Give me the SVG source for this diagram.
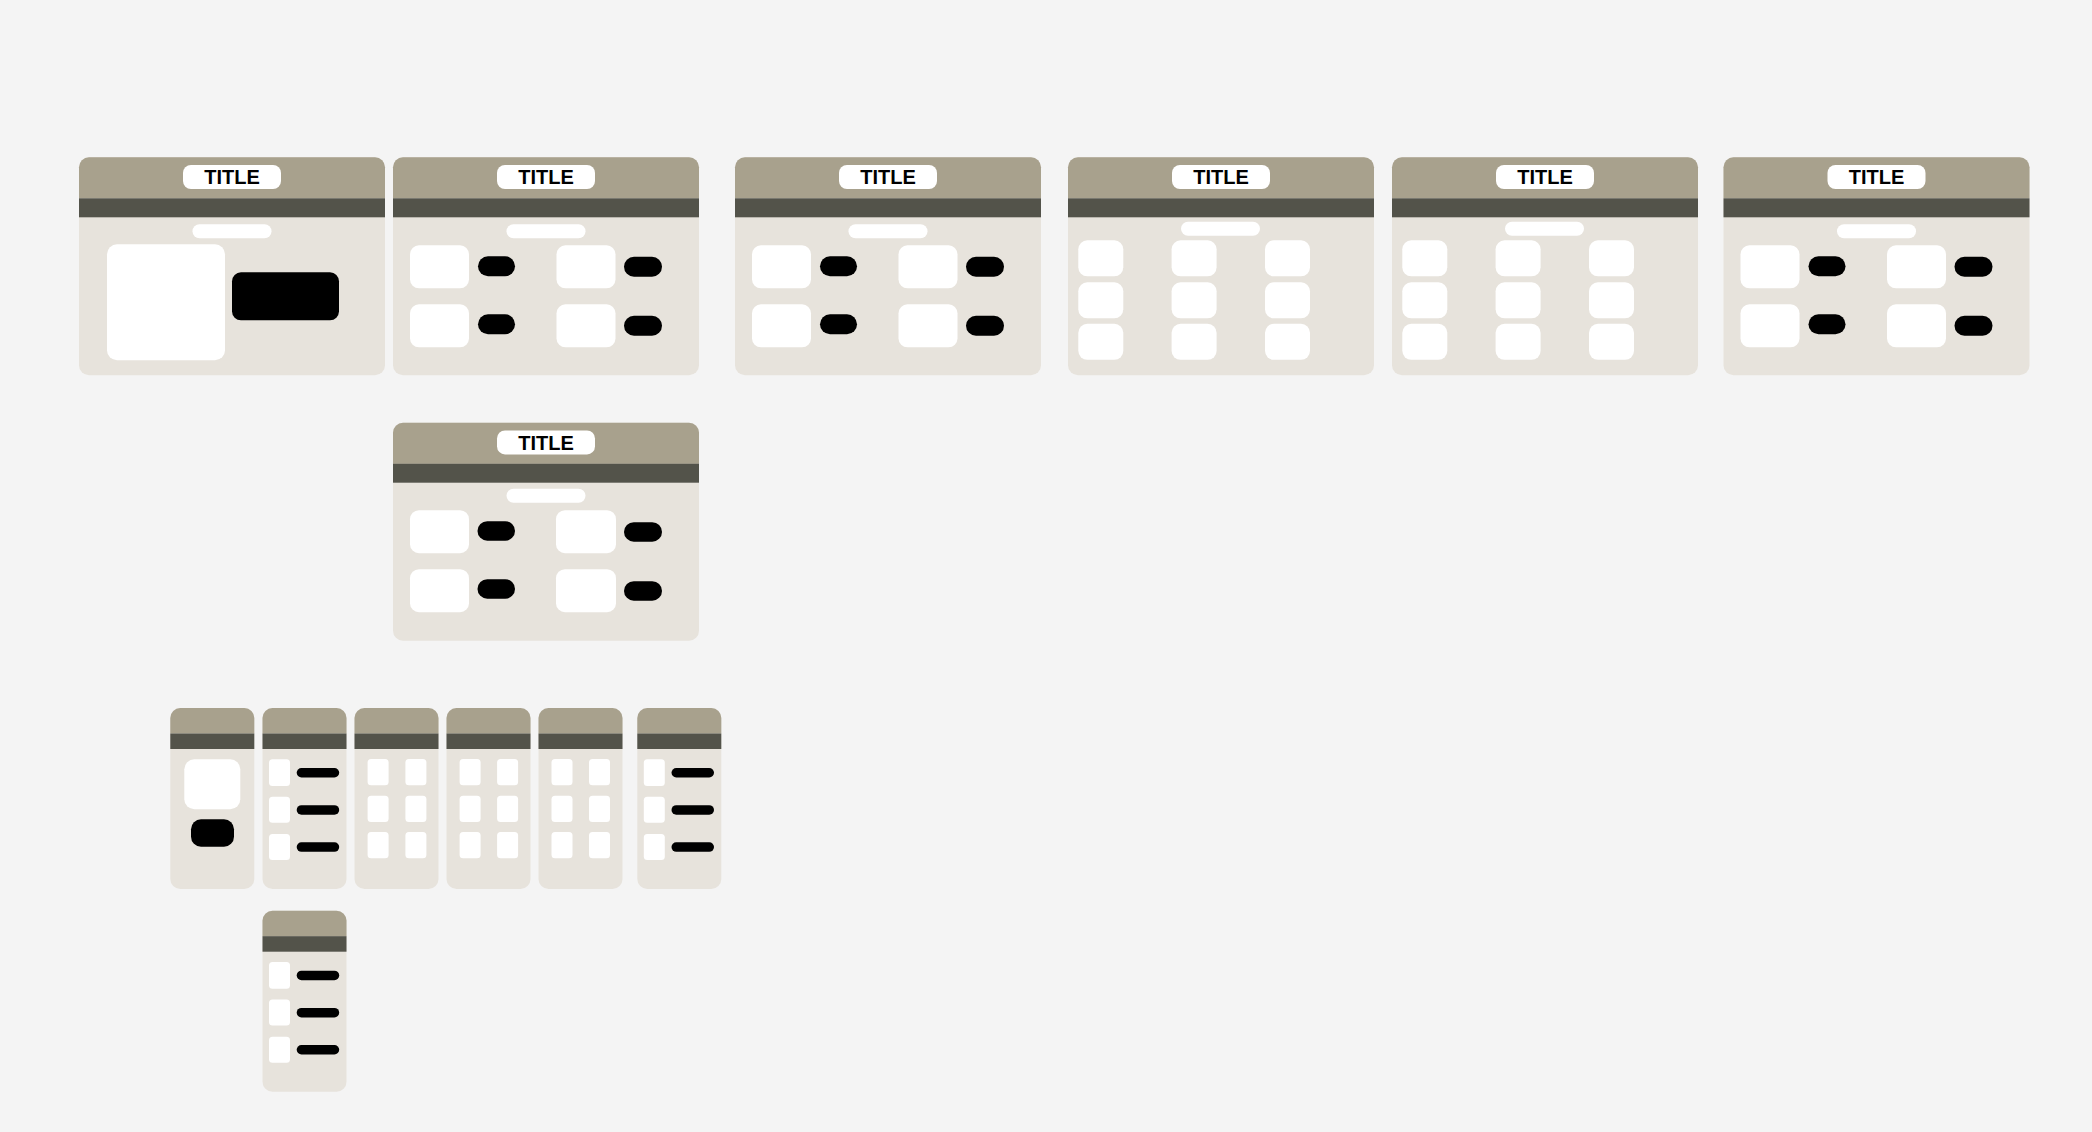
<svg xmlns="http://www.w3.org/2000/svg" width="2092" height="1132" viewBox="0 0 2092 1132">
<style>
.bg{fill:#F4F4F4}
.body{fill:#E7E3DC}
.hdr{fill:#A8A18D}
.band{fill:#53534A}
.w{fill:#FFFFFF}
.k{fill:#000000}
.t{font-family:"Liberation Sans",Arial,sans-serif;font-weight:bold;font-size:20px;fill:#000;text-anchor:middle}
</style>
<defs>
<path id="bigHdr" d="M0,10 A10,10 0 0 1 10,0 H296 A10,10 0 0 1 306,10 V41 H0 Z"/>
<path id="smHdr" d="M0,10 A10,10 0 0 1 10,0 H74 A10,10 0 0 1 84,10 V25.5 H0 Z"/>
</defs>
<rect class="bg" x="0" y="0" width="2092" height="1132"/>
<g id="connectors"></g>

<g id="card1" transform="translate(79,157.3)">
<rect class="body" x="0" y="0" width="306" height="218" rx="10"/>
<use href="#bigHdr" class="hdr"/>
<rect class="band" x="0" y="41" width="306" height="19"/>
<rect class="w" x="104" y="7.7" width="98" height="24" rx="8"/>
<text class="t" x="153" y="27">TITLE</text>
<rect class="w" x="113.5" y="67" width="79" height="14" rx="7"/>
<rect class="w" x="28" y="87" width="118" height="116" rx="10"/>
<rect class="k" x="153" y="115" width="107" height="48" rx="9"/>
</g>

<g id="card2" transform="translate(393,157.3)">
<rect class="body" x="0" y="0" width="306" height="218" rx="10"/>
<use href="#bigHdr" class="hdr"/>
<rect class="band" x="0" y="41" width="306" height="19"/>
<rect class="w" x="104" y="7.7" width="98" height="24" rx="8"/>
<text class="t" x="153" y="27">TITLE</text>
<rect class="w" x="113.5" y="67" width="79" height="14" rx="7"/>
<rect class="w" x="17" y="88" width="59" height="43" rx="9"/>
<rect class="w" x="163.5" y="88" width="59" height="43" rx="9"/>
<rect class="w" x="17" y="147" width="59" height="43" rx="9"/>
<rect class="w" x="163.5" y="147" width="59" height="43" rx="9"/>
<rect class="k" x="85" y="99" width="37" height="20" rx="10"/>
<rect class="k" x="231" y="99.5" width="38" height="20" rx="10"/>
<rect class="k" x="85" y="157" width="37" height="20" rx="10"/>
<rect class="k" x="231" y="158.5" width="38" height="20" rx="10"/>
</g>

<g id="card3" transform="translate(735,157.3)">
<rect class="body" x="0" y="0" width="306" height="218" rx="10"/>
<use href="#bigHdr" class="hdr"/>
<rect class="band" x="0" y="41" width="306" height="19"/>
<rect class="w" x="104" y="7.7" width="98" height="24" rx="8"/>
<text class="t" x="153" y="27">TITLE</text>
<rect class="w" x="113.5" y="67" width="79" height="14" rx="7"/>
<rect class="w" x="17" y="88" width="59" height="43" rx="9"/>
<rect class="w" x="163.5" y="88" width="59" height="43" rx="9"/>
<rect class="w" x="17" y="147" width="59" height="43" rx="9"/>
<rect class="w" x="163.5" y="147" width="59" height="43" rx="9"/>
<rect class="k" x="85" y="99" width="37" height="20" rx="10"/>
<rect class="k" x="231" y="99.5" width="38" height="20" rx="10"/>
<rect class="k" x="85" y="157" width="37" height="20" rx="10"/>
<rect class="k" x="231" y="158.5" width="38" height="20" rx="10"/>
</g>

<g id="card4" transform="translate(1068,157.3)">
<rect class="body" x="0" y="0" width="306" height="218" rx="10"/>
<use href="#bigHdr" class="hdr"/>
<rect class="band" x="0" y="41" width="306" height="19"/>
<rect class="w" x="104" y="7.7" width="98" height="24" rx="8"/>
<text class="t" x="153" y="27">TITLE</text>
<rect class="w" x="113" y="64.5" width="79" height="14" rx="7"/>
<rect class="w" x="10.3" y="83" width="45" height="36" rx="9"/>
<rect class="w" x="103.6" y="83" width="45" height="36" rx="9"/>
<rect class="w" x="197" y="83" width="45" height="36" rx="9"/>
<rect class="w" x="10.3" y="125" width="45" height="36" rx="9"/>
<rect class="w" x="103.6" y="125" width="45" height="36" rx="9"/>
<rect class="w" x="197" y="125" width="45" height="36" rx="9"/>
<rect class="w" x="10.3" y="166.5" width="45" height="36" rx="9"/>
<rect class="w" x="103.6" y="166.5" width="45" height="36" rx="9"/>
<rect class="w" x="197" y="166.5" width="45" height="36" rx="9"/>
</g>

<g id="card5" transform="translate(1392,157.3)">
<rect class="body" x="0" y="0" width="306" height="218" rx="10"/>
<use href="#bigHdr" class="hdr"/>
<rect class="band" x="0" y="41" width="306" height="19"/>
<rect class="w" x="104" y="7.7" width="98" height="24" rx="8"/>
<text class="t" x="153" y="27">TITLE</text>
<rect class="w" x="113" y="64.5" width="79" height="14" rx="7"/>
<rect class="w" x="10.3" y="83" width="45" height="36" rx="9"/>
<rect class="w" x="103.6" y="83" width="45" height="36" rx="9"/>
<rect class="w" x="197" y="83" width="45" height="36" rx="9"/>
<rect class="w" x="10.3" y="125" width="45" height="36" rx="9"/>
<rect class="w" x="103.6" y="125" width="45" height="36" rx="9"/>
<rect class="w" x="197" y="125" width="45" height="36" rx="9"/>
<rect class="w" x="10.3" y="166.5" width="45" height="36" rx="9"/>
<rect class="w" x="103.6" y="166.5" width="45" height="36" rx="9"/>
<rect class="w" x="197" y="166.5" width="45" height="36" rx="9"/>
</g>

<g id="card6" transform="translate(1723.5,157.3)">
<rect class="body" x="0" y="0" width="306" height="218" rx="10"/>
<use href="#bigHdr" class="hdr"/>
<rect class="band" x="0" y="41" width="306" height="19"/>
<rect class="w" x="104" y="7.7" width="98" height="24" rx="8"/>
<text class="t" x="153" y="27">TITLE</text>
<rect class="w" x="113.5" y="67" width="79" height="14" rx="7"/>
<rect class="w" x="17" y="88" width="59" height="43" rx="9"/>
<rect class="w" x="163.5" y="88" width="59" height="43" rx="9"/>
<rect class="w" x="17" y="147" width="59" height="43" rx="9"/>
<rect class="w" x="163.5" y="147" width="59" height="43" rx="9"/>
<rect class="k" x="85" y="99" width="37" height="20" rx="10"/>
<rect class="k" x="231" y="99.5" width="38" height="20" rx="10"/>
<rect class="k" x="85" y="157" width="37" height="20" rx="10"/>
<rect class="k" x="231" y="158.5" width="38" height="20" rx="10"/>
</g>

<g id="card7" transform="translate(393,422.7)">
<rect class="body" x="0" y="0" width="306" height="218" rx="10"/>
<use href="#bigHdr" class="hdr"/>
<rect class="band" x="0" y="41" width="306" height="19"/>
<rect class="w" x="104" y="7.7" width="98" height="24" rx="8"/>
<text class="t" x="153" y="27">TITLE</text>
<rect class="w" x="113.5" y="66" width="79" height="14" rx="7"/>
<rect class="w" x="17" y="87.5" width="59" height="43" rx="9"/>
<rect class="w" x="163" y="87.5" width="60" height="43" rx="9"/>
<rect class="w" x="17" y="146.5" width="59" height="43" rx="9"/>
<rect class="w" x="163" y="146.5" width="60" height="43" rx="9"/>
<rect class="k" x="84.5" y="98.5" width="37.5" height="19.5" rx="9.75"/>
<rect class="k" x="231" y="99.5" width="38" height="19.5" rx="9.75"/>
<rect class="k" x="84.5" y="156.5" width="37.5" height="19.5" rx="9.75"/>
<rect class="k" x="231" y="158.5" width="38" height="19.5" rx="9.75"/>
</g>

<g id="small1" transform="translate(170.3,708)">
<rect class="body" x="0" y="0" width="84" height="181" rx="10"/>
<use href="#smHdr" class="hdr"/>
<rect class="band" x="0" y="25.5" width="84" height="15.5"/>
<rect class="w" x="14" y="51.3" width="56" height="50" rx="10"/>
<rect class="k" x="20.7" y="111.3" width="43" height="27.4" rx="10"/>
</g>

<g id="small2" transform="translate(262.5,708)">
<rect class="body" x="0" y="0" width="84" height="181" rx="10"/>
<use href="#smHdr" class="hdr"/>
<rect class="band" x="0" y="25.5" width="84" height="15.5"/>
<rect class="w" x="6.5" y="51.3" width="21" height="26.7" rx="3.5"/>
<rect class="w" x="6.5" y="88.7" width="21" height="26" rx="3.5"/>
<rect class="w" x="6.5" y="126" width="21" height="26" rx="3.5"/>
<rect class="k" x="34.2" y="60" width="42.5" height="9.5" rx="4.75"/>
<rect class="k" x="34.2" y="97.2" width="42.5" height="9.5" rx="4.75"/>
<rect class="k" x="34.2" y="134.3" width="42.5" height="9.5" rx="4.75"/>
</g>

<g id="small3" transform="translate(354.5,708)">
<rect class="body" x="0" y="0" width="84" height="181" rx="10"/>
<use href="#smHdr" class="hdr"/>
<rect class="band" x="0" y="25.5" width="84" height="15.5"/>
<rect class="w" x="13.1" y="51" width="21" height="26.3" rx="3.5"/>
<rect class="w" x="50.9" y="51" width="21" height="26.3" rx="3.5"/>
<rect class="w" x="13.1" y="87.7" width="21" height="26.3" rx="3.5"/>
<rect class="w" x="50.9" y="87.7" width="21" height="26.3" rx="3.5"/>
<rect class="w" x="13.1" y="124" width="21" height="26.3" rx="3.5"/>
<rect class="w" x="50.9" y="124" width="21" height="26.3" rx="3.5"/>
</g>

<g id="small4" transform="translate(446.5,708)">
<rect class="body" x="0" y="0" width="84" height="181" rx="10"/>
<use href="#smHdr" class="hdr"/>
<rect class="band" x="0" y="25.5" width="84" height="15.5"/>
<rect class="w" x="13.1" y="51" width="21" height="26.3" rx="3.5"/>
<rect class="w" x="50.6" y="51" width="21" height="26.3" rx="3.5"/>
<rect class="w" x="13.1" y="87.7" width="21" height="26.3" rx="3.5"/>
<rect class="w" x="50.6" y="87.7" width="21" height="26.3" rx="3.5"/>
<rect class="w" x="13.1" y="124" width="21" height="26.3" rx="3.5"/>
<rect class="w" x="50.6" y="124" width="21" height="26.3" rx="3.5"/>
</g>

<g id="small5" transform="translate(538.5,708)">
<rect class="body" x="0" y="0" width="84" height="181" rx="10"/>
<use href="#smHdr" class="hdr"/>
<rect class="band" x="0" y="25.5" width="84" height="15.5"/>
<rect class="w" x="13" y="51" width="21" height="26.3" rx="3.5"/>
<rect class="w" x="50.5" y="51" width="21" height="26.3" rx="3.5"/>
<rect class="w" x="13" y="87.7" width="21" height="26.3" rx="3.5"/>
<rect class="w" x="50.5" y="87.7" width="21" height="26.3" rx="3.5"/>
<rect class="w" x="13" y="124" width="21" height="26.3" rx="3.5"/>
<rect class="w" x="50.5" y="124" width="21" height="26.3" rx="3.5"/>
</g>

<g id="small6" transform="translate(637.3,708)">
<rect class="body" x="0" y="0" width="84" height="181" rx="10"/>
<use href="#smHdr" class="hdr"/>
<rect class="band" x="0" y="25.5" width="84" height="15.5"/>
<rect class="w" x="6.5" y="51.3" width="21" height="26.7" rx="3.5"/>
<rect class="w" x="6.5" y="88.7" width="21" height="26" rx="3.5"/>
<rect class="w" x="6.5" y="126" width="21" height="26" rx="3.5"/>
<rect class="k" x="34.2" y="60" width="42.5" height="9.5" rx="4.75"/>
<rect class="k" x="34.2" y="97.2" width="42.5" height="9.5" rx="4.75"/>
<rect class="k" x="34.2" y="134.3" width="42.5" height="9.5" rx="4.75"/>
</g>

<g id="small7" transform="translate(262.5,910.7)">
<rect class="body" x="0" y="0" width="84" height="181" rx="10"/>
<use href="#smHdr" class="hdr"/>
<rect class="band" x="0" y="25.5" width="84" height="15.5"/>
<rect class="w" x="6.5" y="51.3" width="21" height="26.7" rx="3.5"/>
<rect class="w" x="6.5" y="88.7" width="21" height="26" rx="3.5"/>
<rect class="w" x="6.5" y="126" width="21" height="26" rx="3.5"/>
<rect class="k" x="34.2" y="60" width="42.5" height="9.5" rx="4.75"/>
<rect class="k" x="34.2" y="97.2" width="42.5" height="9.5" rx="4.75"/>
<rect class="k" x="34.2" y="134.3" width="42.5" height="9.5" rx="4.75"/>
</g>
</svg>
